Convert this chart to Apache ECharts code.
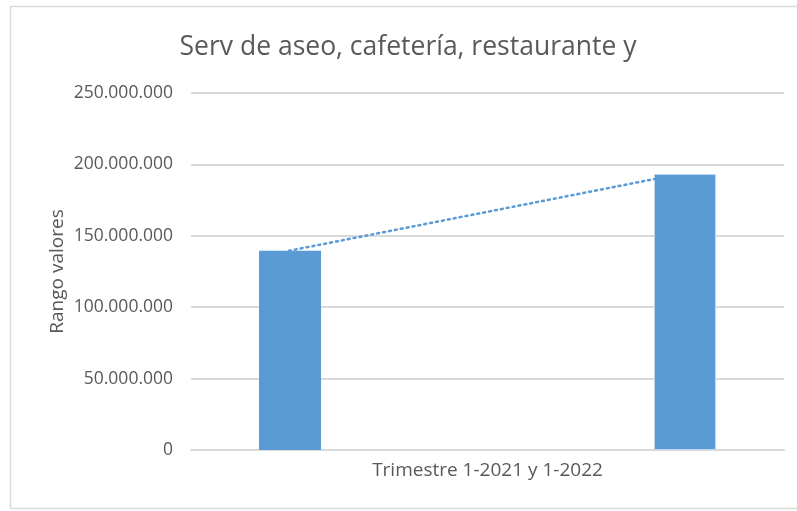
<!DOCTYPE html>
<html>
<head>
<meta charset="utf-8">
<script src="https://cdn.jsdelivr.net/npm/echarts@6/dist/echarts.min.js"></script>
<style>
  html, body { margin: 0; padding: 0; background: #fff; }
  #chart { width: 797px; height: 511px; }
</style>
</head>
<body>
<div id="chart"></div>
<script>
// data
const categories = ['Trimestre 1-2021 y 1-2022']
const serie2021 = [139500000]
const serie2022 = [193300000]
// dotted trend line: position across the plot (0..1) and value
const trendX = [0.165, 0.782]
const trendY = [139500000, 189800000]
const yTicks = { min: 0, max: 250000000, interval: 50000000 }

const fmt = v => String(v).replace(/\B(?=(\d{3})+(?!\d))/g, '.')

const chart = echarts.init(document.getElementById('chart'))
const font = 'Open Sans'

chart.setOption({
  animation: false,
  backgroundColor: '#fff',
  textStyle: { fontFamily: font },
  title: {
    text: 'Serv de aseo, cafetería, restaurante y',
    left: 403,
    textAlign: 'center',
    top: 29,
    textStyle: { color: '#595959', fontSize: 26.5, fontWeight: 'normal', fontFamily: font }
  },
  graphic: [{
    type: 'rect',
    shape: { x: 10.5, y: 6.5, width: 800, height: 502 },
    style: { fill: 'none', stroke: '#d9d9d9', lineWidth: 1.5 },
    silent: true
  }],
  grid: { left: 191, right: 13, top: 93, bottom: 61 },
  xAxis: [{
    type: 'category',
    data: categories,
    axisLine: { lineStyle: { color: '#d9d9d9', width: 2 } },
    axisTick: { show: false },
    axisLabel: { color: '#595959', fontSize: 19, margin: 11, fontFamily: font }
  }, {
    type: 'value',
    min: 0,
    max: 1,
    show: false
  }],
  yAxis: {
    type: 'value',
    min: yTicks.min,
    max: yTicks.max,
    interval: yTicks.interval,
    name: 'Rango valores',
    nameLocation: 'middle',
    nameGap: 124,
    nameMoveOverlap: false,
    nameTextStyle: { color: '#595959', fontSize: 19, fontFamily: font },
    axisLine: { show: false },
    axisTick: { show: false },
    axisLabel: { color: '#595959', fontSize: 17.5, margin: 18, formatter: fmt, fontFamily: font },
    splitLine: { lineStyle: { color: '#d9d9d9', width: 2 } }
  },
  series: [{
    type: 'bar',
    data: serie2021,
    barWidth: 62,
    barGap: '537%',
    itemStyle: { color: '#5b9bd5' }
  }, {
    type: 'bar',
    data: serie2022,
    barWidth: 62,
    itemStyle: { color: '#5b9bd5', borderColor: '#bdd7ee', borderWidth: 1 }
  }, {
    type: 'line',
    xAxisIndex: 1,
    data: trendX.map((x, i) => [x, trendY[i]]),
    symbol: 'none',
    lineStyle: { color: '#5b9bd5', width: 2.5, type: [2, 4], cap: 'round' },
    z: 5
  }]
})
</script>
</body>
</html>
